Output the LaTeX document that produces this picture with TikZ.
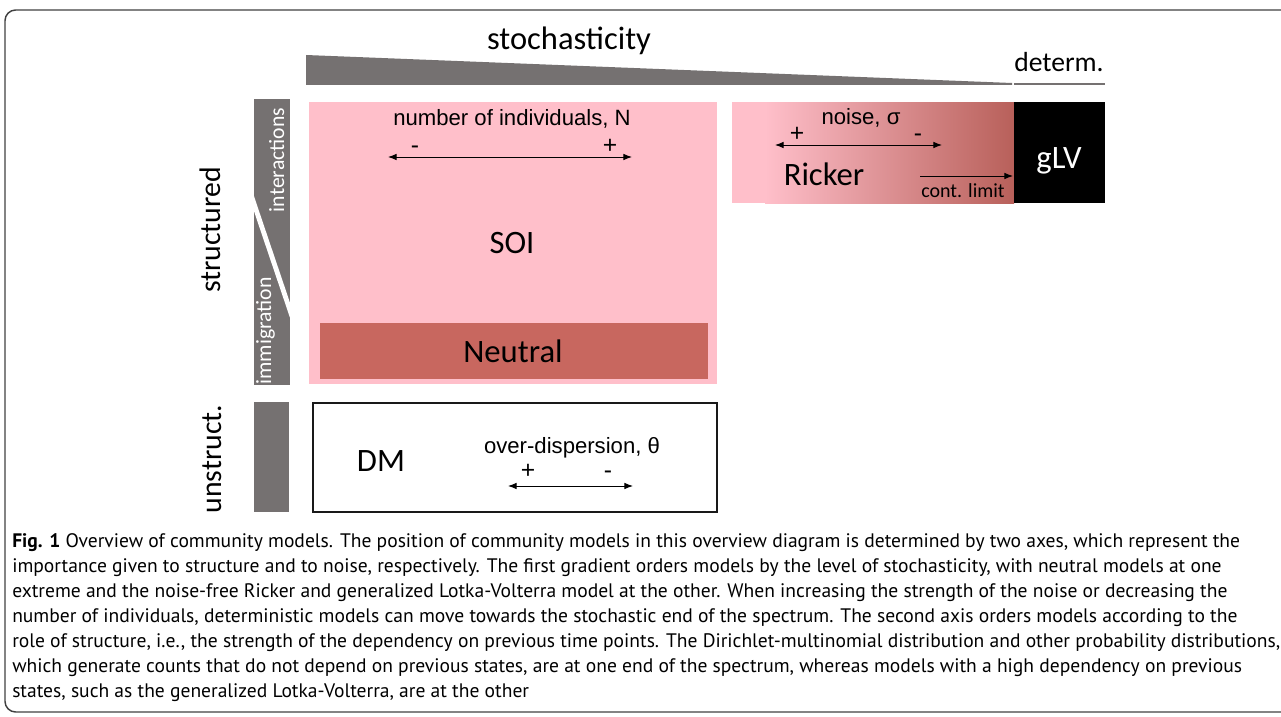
\documentclass[tikz,border=0pt]{standalone}
\usepackage{fontspec}
\setmainfont{Carlito}
\newfontfamily\arialfont{Liberation Sans}
\newfontfamily\legendefont{PT Sans}
\usetikzlibrary{arrows.meta}

\definecolor{barregris}{RGB}{117,113,113}
\definecolor{rosesoi}{RGB}{255,191,202}
\definecolor{rougeneutre}{RGB}{200,103,95}
\definecolor{rougericker}{RGB}{184,96,90}

\tikzset{
    fleche/.style={{Latex[length=6.5pt,width=5pt]}-{Latex[length=6.5pt,width=5pt]}, line width=0.7pt, black},
    flechesimple/.style={-{Latex[length=6.5pt,width=5pt]}, line width=0.7pt, black},
    titre/.style={inner sep=0pt, font=\fontsize{24.4}{28}\selectfont},
    modele/.style={inner sep=0pt, font=\fontsize{24.5}{28}\selectfont},
    etiquette/.style={inner sep=0pt, font=\arialfont\fontsize{16.6}{19}\selectfont},
    signe/.style={inner sep=0pt, anchor=base, font=\arialfont\fontsize{18.5}{21}\selectfont},
    axe/.style={inner sep=0pt, rotate=90, anchor=base, font=\fontsize{16.3}{19}\selectfont, white},
    legende/.style={inner sep=0pt, anchor=base west, font=\legendefont\fontsize{14.66}{18}\selectfont},
}

\begin{document}
\begin{tikzpicture}[x=0.75pt, y=-0.75pt]
        \useasboundingbox (0,0) rectangle (1281,717);

        % Cadre de la figure
        \draw[line width=1.1pt, black!75, rounded corners=8pt] (1300,10) -- (5,10) -- (5,712) -- (1300,712);

        % Triangle stochasticite
        \fill[barregris] (306,55) -- (1012,83) -- (1012,85) -- (306,85) -- cycle;
        \node[titre, anchor=base] (stochasticite) at (569,50) {stochasticity};

        % Trait determ.
        \draw[barregris, line width=1.5pt] (1014,84) -- (1105,84);
        \node[inner sep=0pt, anchor=base west, font=\fontsize{20.7}{24}\selectfont] (determ) at (1014,72) {determ.};

        % Barre verticale structured
        \fill[barregris] (254,99) rectangle (290,385);
        \begin{scope}
            \clip (254,99) rectangle (290,385);
            \draw[white, line width=3.6pt] (248,186) -- (296,328);
        \end{scope}
        \node[axe] (interactions) at (284,160) {interactions};
        \node[axe] (immigration) at (271,331) {immigration};
        \node[titre, rotate=90, anchor=base, font=\fontsize{22.3}{26}\selectfont] (structured) at (220,230) {structured};

        % Barre verticale unstruct.
        \fill[barregris] (254,402) rectangle (289,512);
        \node[titre, rotate=90, anchor=base, font=\fontsize{22.3}{26}\selectfont] (unstruct) at (221,459) {unstruct.};

        % Boite SOI
        \fill[rosesoi] (309,102) rectangle (717,384);
        \node[etiquette, anchor=base] (nombre) at (512,125) {number of individuals, N};
        \node[signe] (moinsN) at (415,153) {-};
        \node[signe] (plusN) at (610,153) {+};
        \coordinate (nA) at (388,157);
        \coordinate (nB) at (632,157);
        \draw[fleche] (nA) -- (nB);
        \node[modele, anchor=base] (soi) at (512,253) {SOI};

        % Boite Neutral
        \fill[rougeneutre] (320,323) rectangle (708,379);
        \node[modele, anchor=base] (neutre) at (513,362) {Neutral};

        % Boite Ricker (degrade)
        \fill[rosesoi] (732,102) rectangle (766,203);
        \shade[left color=rosesoi, right color=rougericker] (765,102) rectangle (1014,203);
        \node[etiquette, anchor=base] (bruit) at (861,124) {noise, σ};
        \node[signe] (plusR) at (797,141) {+};
        \node[signe] (moinsR) at (918,141) {-};
        \coordinate (rA) at (775,145);
        \coordinate (rB) at (942,145);
        \draw[fleche] (rA) -- (rB);
        \node[modele, anchor=base] (ricker) at (824,185) {Ricker};
        \coordinate (lA) at (920,176);
        \coordinate (lB) at (1013,176);
        \draw[flechesimple] (lA) -- (lB);
        \node[inner sep=0pt, anchor=base, font=\fontsize{15}{18}\selectfont] (limite) at (963,197) {cont. limit};

        % Boite gLV
        \fill[black] (1014,102) rectangle (1105,203);
        \node[modele, anchor=base, white] (glv) at (1059,168) {gLV};

        % Boite DM
        \draw[line width=1.4pt, black!90] (313,403) rectangle (717,512);
        \node[modele, anchor=base] (dm) at (381,471) {DM};
        \node[etiquette, anchor=base] (dispersion) at (572,453) {over-dispersion, θ};
        \node[signe] (plusD) at (528,478) {+};
        \node[signe] (moinsD) at (608,478) {-};
        \coordinate (dA) at (508,486);
        \coordinate (dB) at (633,486);
        \draw[fleche] (dA) -- (dB);

        % Legende
        \node[legende] (ligne1) at (12,547) {\textbf{Fig. 1} Overview of community models. The position of community models in this overview diagram is determined by two axes, which represent the};
        \node[legende] (ligne2) at (12,572) {importance given to structure and to noise, respectively. The first gradient orders models by the level of stochasticity, with neutral models at one};
        \node[legende] (ligne3) at (12,597) {extreme and the noise-free Ricker and generalized Lotka-Volterra model at the other. When increasing the strength of the noise or decreasing the};
        \node[legende] (ligne4) at (12,622) {number of individuals, deterministic models can move towards the stochastic end of the spectrum. The second axis orders models according to the};
        \node[legende] (ligne5) at (12,647) {role of structure, i.e., the strength of the dependency on previous time points. The Dirichlet-multinomial distribution and other probability distributions,};
        \node[legende] (ligne6) at (12,672) {which generate counts that do not depend on previous states, are at one end of the spectrum, whereas models with a high dependency on previous};
        \node[legende] (ligne7) at (12,697) {states, such as the generalized Lotka-Volterra, are at the other};

\end{tikzpicture}
\end{document}
